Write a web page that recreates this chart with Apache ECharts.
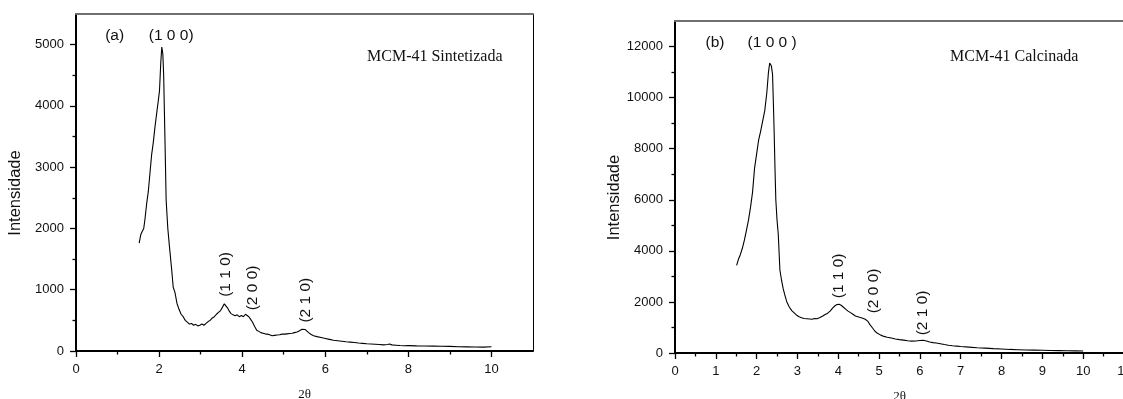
<!DOCTYPE html>
<html>
<head>
<meta charset="utf-8">
<script src="https://cdn.jsdelivr.net/npm/echarts@6/dist/echarts.min.js"></script>
<style>
  html, body { margin: 0; padding: 0; background: #fff; }
  #chart { width: 1123px; height: 399px; }
</style>
</head>
<body>
<div id="chart"></div>
<script>
// (a) MCM-41 Sintetizada
const thetaA = [1.52, 1.56, 1.60, 1.63, 1.66, 1.70, 1.74, 1.78, 1.82, 1.86, 1.90, 1.94, 1.98, 2.01, 2.04, 2.065, 2.09, 2.11, 2.14, 2.17, 2.21, 2.25, 2.30, 2.34, 2.38, 2.43, 2.48, 2.53, 2.58, 2.63, 2.68, 2.73, 2.78, 2.83, 2.88, 2.93, 2.98, 3.03, 3.08, 3.13, 3.18, 3.23, 3.28, 3.33, 3.38, 3.43, 3.48, 3.53, 3.57, 3.61, 3.65, 3.69, 3.73, 3.78, 3.83, 3.88, 3.93, 3.98, 4.03, 4.08, 4.12, 4.16, 4.20, 4.25, 4.30, 4.35, 4.40, 4.45, 4.50, 4.55, 4.60, 4.66, 4.72, 4.78, 4.84, 4.90, 4.96, 5.02, 5.08, 5.14, 5.20, 5.26, 5.32, 5.38, 5.44, 5.48, 5.52, 5.56, 5.60, 5.66, 5.72, 5.80, 5.90, 6.00, 6.10, 6.20, 6.30, 6.40, 6.50, 6.60, 6.70, 6.80, 6.90, 7.00, 7.10, 7.20, 7.30, 7.40, 7.50, 7.55, 7.60, 7.70, 7.80, 7.90, 8.00, 8.20, 8.40, 8.60, 8.80, 9.00, 9.20, 9.40, 9.60, 9.80, 10.00];
const intensA = [1760, 1900, 1960, 2000, 2150, 2400, 2600, 2900, 3200, 3400, 3650, 3870, 4080, 4250, 4700, 4960, 4850, 4500, 3500, 2460, 2000, 1700, 1350, 1040, 960, 780, 680, 600, 560, 500, 470, 440, 450, 420, 435, 410, 420, 440, 420, 450, 480, 500, 540, 560, 600, 630, 660, 720, 770, 770, 700, 650, 610, 590, 575, 590, 560, 580, 560, 600, 590, 560, 520, 470, 400, 340, 320, 300, 290, 280, 275, 265, 250, 255, 260, 265, 275, 275, 280, 285, 290, 300, 310, 330, 355, 370, 350, 320, 300, 270, 250, 235, 220, 205, 190, 175, 168, 160, 150, 145, 138, 130, 125, 118, 114, 110, 105, 100, 105, 115, 100, 95, 90, 86, 88, 84, 82, 80, 78, 75, 70, 68, 66, 64, 70];

// (b) MCM-41 Calcinada
const thetaB = [1.51, 1.55, 1.60, 1.65, 1.70, 1.75, 1.80, 1.85, 1.90, 1.95, 2.00, 2.05, 2.10, 2.15, 2.20, 2.25, 2.29, 2.32, 2.34, 2.36, 2.39, 2.41, 2.43, 2.45, 2.47, 2.50, 2.53, 2.57, 2.61, 2.65, 2.70, 2.74, 2.80, 2.86, 2.92, 2.98, 3.04, 3.10, 3.16, 3.23, 3.30, 3.36, 3.42, 3.48, 3.55, 3.62, 3.68, 3.74, 3.80, 3.86, 3.92, 3.97, 4.02, 4.07, 4.12, 4.18, 4.24, 4.30, 4.36, 4.42, 4.48, 4.54, 4.60, 4.66, 4.72, 4.78, 4.84, 4.90, 4.96, 5.04, 5.12, 5.20, 5.30, 5.40, 5.50, 5.60, 5.70, 5.80, 5.90, 6.00, 6.08, 6.16, 6.24, 6.32, 6.40, 6.50, 6.60, 6.70, 6.80, 6.90, 7.00, 7.20, 7.40, 7.60, 7.80, 8.00, 8.20, 8.40, 8.60, 8.80, 9.00, 9.20, 9.40, 9.60, 9.80, 10.00];
const intensB = [3430, 3650, 3850, 4100, 4420, 4800, 5200, 5700, 6300, 7250, 7800, 8350, 8700, 9100, 9500, 10200, 11000, 11350, 11400, 11250, 10900, 9800, 8600, 7200, 6000, 5200, 4650, 3250, 2850, 2520, 2220, 2000, 1800, 1660, 1570, 1480, 1420, 1380, 1350, 1340, 1330, 1320, 1350, 1340, 1390, 1450, 1510, 1560, 1640, 1760, 1850, 1900, 1910, 1870, 1800, 1720, 1640, 1580, 1520, 1450, 1420, 1390, 1360, 1320, 1250, 1100, 980, 850, 770, 700, 650, 620, 590, 550, 525, 505, 480, 465, 470, 490, 500, 470, 430, 405, 390, 360, 330, 305, 285, 270, 255, 230, 205, 190, 170, 155, 140, 130, 120, 112, 105, 98, 92, 86, 82, 78];

// tick labels
const xLabelsA = [0, 2, 4, 6, 8, 10];
const xMinorA = [1, 3, 5, 7, 9];
const yLabelsA = [0, 1000, 2000, 3000, 4000, 5000];
const yMinorA = [500, 1500, 2500, 3500, 4500];
const xLabelsB = [0, 1, 2, 3, 4, 5, 6, 7, 8, 9, 10, 11];
const xMinorB = [0.5, 1.5, 2.5, 3.5, 4.5, 5.5, 6.5, 7.5, 8.5, 9.5, 10.5];
const yLabelsB = [0, 2000, 4000, 6000, 8000, 10000, 12000];
const yMinorB = [1000, 3000, 5000, 7000, 9000, 11000];

// peak annotations (text, 2θ, intensity, rotation)
const notesA = ['(a)', '(1 0 0)', '(1 1 0)', '(2 0 0)', '(2 1 0)'];
const notesXA = [0.93, 2.29, 3.6, 4.25, 5.53];
const notesYA = [5150, 5150, 1250, 1030, 830];
const notesRotA = [0, 0, 90, 90, 90];
const notesB = ['(b)', '(1 0 0 )', '(1 1 0)', '(2 0 0)', '(2 1 0)'];
const notesXB = [0.98, 2.38, 4.02, 4.88, 6.08];
const notesYB = [12130, 12130, 3020, 2430, 1570];
const notesRotB = [0, 0, 90, 90, 90];

const sans = 'Liberation Sans';
const serif = 'Liberation Serif';
const plain = (v) => String(v);

const mainX = (grid, max, labels, name) => ({
  type: 'value', gridIndex: grid, min: 0, max: max, position: 'bottom',
  name: name, nameLocation: 'middle', nameGap: 37,
  nameTextStyle: { fontFamily: serif, fontSize: 13, color: '#111' },
  axisLine: { onZero: false, lineStyle: { color: '#000', width: 2 } },
  axisTick: { customValues: labels, length: 6, lineStyle: { color: '#000', width: 1.3 } },
  axisLabel: { customValues: labels, formatter: plain, margin: 12, fontFamily: sans, fontSize: 13, color: '#111' },
  splitLine: { show: false },
});
const minorX = (grid, max, values) => ({
  type: 'value', gridIndex: grid, min: 0, max: max, position: 'bottom',
  axisLine: { show: false, onZero: false },
  axisTick: { customValues: values, length: 3.5, lineStyle: { color: '#000', width: 1.3 } },
  axisLabel: { show: false }, splitLine: { show: false },
});
const topX = (grid, max) => ({
  type: 'value', gridIndex: grid, min: 0, max: max, position: 'top',
  axisLine: { onZero: false, lineStyle: { color: '#707070', width: 2 } },
  axisTick: { show: false }, axisLabel: { show: false }, splitLine: { show: false },
});
const mainY = (grid, max, labels) => ({
  type: 'value', gridIndex: grid, min: 0, max: max, position: 'left',
  name: 'Intensidade', nameLocation: 'middle', nameGap: 52,
  nameTextStyle: { fontFamily: sans, fontSize: 16.5, color: '#111', padding: [0, 21, 0, 0] },
  axisLine: { show: true, onZero: false, lineStyle: { color: '#000', width: 2 } },
  axisTick: { show: true, customValues: labels, length: 6, lineStyle: { color: '#000', width: 1.3 } },
  axisLabel: { customValues: labels, formatter: plain, margin: 12, fontFamily: sans, fontSize: 13, color: '#111' },
  splitLine: { show: false },
});
const minorY = (grid, max, values) => ({
  type: 'value', gridIndex: grid, min: 0, max: max, position: 'left',
  axisLine: { show: false, onZero: false },
  axisTick: { show: true, customValues: values, length: 3.5, lineStyle: { color: '#000', width: 1.3 } },
  axisLabel: { show: false }, splitLine: { show: false },
});
const rightY = (grid, max) => ({
  type: 'value', gridIndex: grid, min: 0, max: max, position: 'right',
  axisLine: { show: true, onZero: false, lineStyle: { color: '#000', width: 1 } },
  axisTick: { show: false }, axisLabel: { show: false }, splitLine: { show: false },
});

const notesSeries = (names, xs, ys, rots, xi, yi) => ({
  type: 'scatter', xAxisIndex: xi, yAxisIndex: yi, symbolSize: 0, silent: true,
  itemStyle: { opacity: 1 },
  data: names.map((n, i) => ({
    name: n, value: [xs[i], ys[i]],
    label: { rotate: rots[i] },
  })),
  label: {
    show: true, position: 'inside', formatter: '{b}', opacity: 1,
    fontFamily: sans, fontSize: 15.5, color: '#111', textBorderWidth: 0,
  },
});

const chart = echarts.init(document.getElementById('chart'), null, { renderer: 'canvas' });
chart.setOption({
  backgroundColor: '#fff',
  animation: false,
  title: [
    { text: 'MCM-41 Sintetizada', left: 362, top: 44,
      textStyle: { fontFamily: serif, fontSize: 16, fontWeight: 'normal', color: '#111' } },
    { text: 'MCM-41 Calcinada', left: 945, top: 44,
      textStyle: { fontFamily: serif, fontSize: 16, fontWeight: 'normal', color: '#111' } },
  ],
  grid: [
    { left: 76, top: 14, width: 457, height: 337, containLabel: false, outerBoundsMode: 'none' },
    { left: 675, top: 21, width: 449, height: 332, containLabel: false, outerBoundsMode: 'none' },
  ],
  xAxis: [
    mainX(0, 11, xLabelsA, '2θ'), minorX(0, 11, xMinorA), topX(0, 11),
    mainX(1, 11, xLabelsB, '2θ'), minorX(1, 11, xMinorB), topX(1, 11),
  ],
  yAxis: [
    mainY(0, 5500, yLabelsA), minorY(0, 5500, yMinorA), rightY(0, 5500),
    mainY(1, 13000, yLabelsB), minorY(1, 13000, yMinorB), rightY(1, 13000),
  ],
  series: [
    {
      name: 'MCM-41 Sintetizada', type: 'line', xAxisIndex: 0, yAxisIndex: 0,
      data: thetaA.map((x, i) => [x, intensA[i]]),
      showSymbol: false, smooth: false,
      lineStyle: { color: '#000', width: 1.1 },
    },
    {
      name: 'MCM-41 Calcinada', type: 'line', xAxisIndex: 3, yAxisIndex: 3,
      data: thetaB.map((x, i) => [x, intensB[i]]),
      showSymbol: false, smooth: false,
      lineStyle: { color: '#000', width: 1.1 },
    },
    notesSeries(notesA, notesXA, notesYA, notesRotA, 0, 0),
    notesSeries(notesB, notesXB, notesYB, notesRotB, 3, 3),
  ],
});
</script>
</body>
</html>
